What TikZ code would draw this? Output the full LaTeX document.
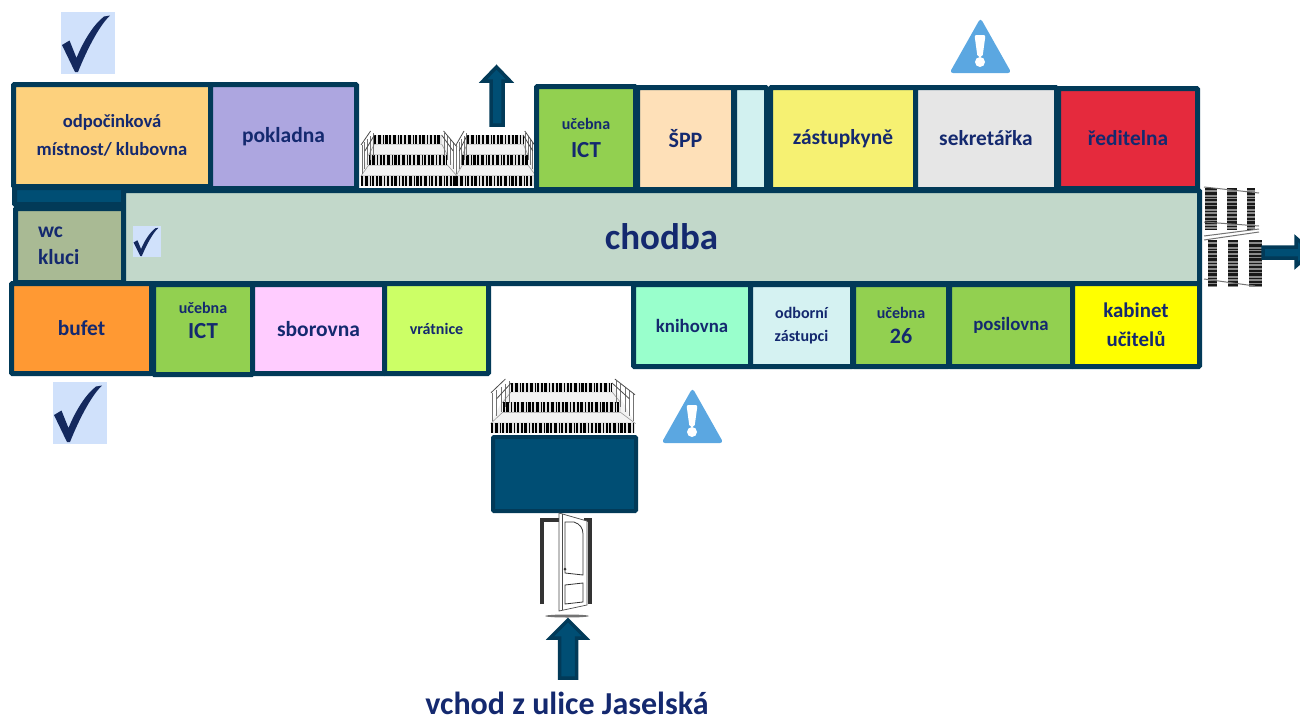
\documentclass[tikz,border=0pt]{standalone}
\usepackage{fontspec}
\setmainfont{Carlito}
\definecolor{border}{HTML}{023A58}
\definecolor{barblue}{HTML}{004E74}
\definecolor{inkblue}{HTML}{14296F}
\definecolor{warnblue}{HTML}{5BA7E1}
\definecolor{tickbg}{HTML}{D0E1FB}
\definecolor{tickink}{HTML}{14295E}
\definecolor{cklub}{HTML}{FDD17D}
\definecolor{cpokl}{HTML}{ADA6E0}
\definecolor{cict}{HTML}{92D050}
\definecolor{cspp}{HTML}{FEE0B8}
\definecolor{cblank}{HTML}{D2F1F0}
\definecolor{czast}{HTML}{F6F172}
\definecolor{csekr}{HTML}{E6E6E6}
\definecolor{cred}{HTML}{E52A3D}
\definecolor{cwc}{HTML}{A9BA94}
\definecolor{cchod}{HTML}{C2D8CA}
\definecolor{cbuf}{HTML}{FF9933}
\definecolor{csbor}{HTML}{FFCCFF}
\definecolor{cvrat}{HTML}{CCFF66}
\definecolor{cknih}{HTML}{99FFCC}
\definecolor{codb}{HTML}{D5F2F2}
\definecolor{ckab}{HTML}{FFFF00}
\newcommand{\fs}[1]{\fontsize{#1}{#1}\selectfont}
% one flight of stairs, 100 wide and 56 high before scaling
\newcommand{\flight}[4]{
  \begin{scope}[shift={(#1,#2)}, xscale=#3/100, yscale=#4/56]
    \fill[black!5] (14,4) -- (84,4) -- (100,45) -- (0,45) -- cycle;
    \draw[black!40, line width=.6pt] (14,13) -- (84,13) -- (90,24) -- (8,24) -- cycle;
    \draw[black!40, line width=.6pt] (8,34) -- (90,34) -- (100,45) -- (0,45) -- cycle;
    \foreach \r/\h/\a/\b in {8.5/9/14/84, 29/10/8/90, 50/10/0/100} {
      \draw[black!12, line width=\h pt] (\a,\r) -- (\b,\r);
      \draw[riser, line width=\h pt] (\a,\r) -- (\b,\r);
    }
    \foreach \s in {1,4,7,10,13} {
      \draw[black!55, line width=.7pt] (\s,{15-\s}) -- (\s,{44-\s*1.5});
      \draw[black!55, line width=.7pt] (100-\s,{15-\s}) -- (100-\s,{44-\s*1.5});
    }
    \draw[black!70, line width=.8pt] (0,14) -- (10,0) (4,20) -- (14,4);
    \draw[black!70, line width=.8pt] (86,0) -- (100,16) (84,4) -- (96,20);
  \end{scope}
}
\tikzset{
  sz/.style 2 args={minimum width=#1pt, minimum height=#2pt},
  riser/.style={black, dash pattern=on 2pt off 1.6pt on 3pt off 2pt on 1pt off 1.4pt on 2.2pt off 1.6pt},
  tick/.pic={
    \fill[tickbg] (0,0) rectangle (54,62);
    \fill[tickink] (1,33) -- (8.5,28.5) -- (15.5,46) .. controls (22,30) and (32,13) .. (43,4.5) -- (49,3.5)
      .. controls (39,13) and (27,35) .. (17,60) -- (14,60) -- cycle;
  },
  warn/.pic={
    \fill[warnblue, rounded corners=3.5pt] (29.5,-3) -- (60.5,52) -- (-1.5,52) -- cycle;
    \fill[white, rounded corners=2pt] (23.5,14) -- (34.5,14) -- (31.5,36) -- (26.5,36) -- cycle;
    \fill[white] (29,41) circle (5);
  }
}
\begin{document}
\begin{tikzpicture}[x=1pt, y=-1pt, align=center, font=\bfseries, text=inkblue]
\tikzstyle{room} = [draw=border, line width=5pt, rounded corners=1pt, inner sep=0pt]
\tikzstyle{blockarrow} = [draw=border, fill=barblue, line width=3.5pt, miter limit=3]
\useasboundingbox (0,0) rectangle (1300,720);

% stairs
\flight{361}{131}{96}{56}
\flight{456}{131}{80}{56}
\flight{491}{379}{144}{55}
\foreach \x/\w in {1211/12, 1232/10, 1251/8} {
  \draw[black!45, line width=\w pt] (\x,188) -- (\x,230);
  \draw[riser, black!90, line width=\w pt] (\x,188) -- (\x,230);
}
\foreach \x/\w in {1212/9, 1233/10, 1255/13} {
  \draw[black!45, line width=\w pt] (\x,240) -- (\x,287);
  \draw[riser, black!90, line width=\w pt] (\x,240) -- (\x,287);
}
\draw[black!55, line width=1pt] (1204,187) -- (1259,193) (1204,222) -- (1259,226) (1204,236) -- (1259,229) (1204,240) -- (1259,232)
  (1204,279) -- (1255,286);

% top row
\node[room, fill=cklub, sz={197}{102}] (odp) at (112,135.5) {\fs{18.6}odpočinková\\[10.5pt]\fs{18.6}místnost/ klubovna};
\node[room, fill=cpokl, sz={146}{104}] (pok) at (283.5,136.5) {\fs{21.5}pokladna};
\node[room, fill=cict, sz={99}{103}] (ictA) at (586,138) {\fs{16}učebna\\[11pt]\fs{23}ICT};
\node[room, fill=cspp, sz={96}{102}] (spp) at (685.5,138.5) {\fs{22}ŠPP};
\node[room, fill=cblank, sz={32}{102}] (blank) at (750.5,138.5) {};
\node[room, fill=czast, sz={145}{102}] (zas) at (843,138.5) {\fs{21.4}zástupkyně};
\node[room, fill=csekr, sz={141}{102}] (sek) at (986,138.5) {\fs{21.4}sekretářka};
\node[room, fill=cred, sz={139}{100}] (red) at (1128,138.5) {\fs{21.4}ředitelna};

% corridor and wc
\node[room, fill=barblue, sz={109}{17}] (bar) at (69,196) {};
\node[room, fill=cwc, sz={108}{74}, text width=63pt, align=left] (wc) at (69.5,245.5) {\fs{21.5}wc\\[11pt]\fs{21.5}kluci};
\node[room, fill=cchod, sz={1076}{93}] (chodba) at (661.5,237) {\fs{37}chodba};

% bottom row
\node[room, fill=cbuf, sz={140}{90}] (bufet) at (81.5,328.5) {\fs{21.4}bufet};
\node[room, fill=cict, sz={99}{90},
  label={[yshift=9pt]center:{\fs{16}učebna\\[8pt]\fs{23}ICT}}] (ictB) at (203,329.5) {};
\node[room, fill=csbor, sz={132}{89}] (sbo) at (318.5,329) {\fs{21.5}sborovna};
\node[room, fill=cvrat, sz={104}{90}] (vra) at (436.5,328.5) {\fs{16}vrátnice};
\node[room, fill=cknih, sz={117}{82}] (kni) at (692,325.5) {\fs{18.8}knihovna};
\node[room, fill=codb, sz={102}{82}] (odb) at (801.5,325.5) {\fs{16}odborní\\[11pt]\fs{16}zástupci};
\node[room, fill=cict, sz={95}{82}] (uc) at (901,325.5) {\fs{16}učebna\\[8.5pt]\fs{22}26};
\node[room, fill=cict, sz={123}{82}] (pos) at (1011,325.5) {\fs{18.8}posilovna};
\node[room, fill=ckab, sz={127}{83}] (kab) at (1136,325) {\fs{20.9}kabinet\\[13pt]\fs{20.9}učitelů};

% entrance hall
\node[room, fill=barblue, sz={143}{74}, line width=4pt] (hala) at (564.5,474) {};

% door
\draw[black!80, line width=4pt] (542,604) -- (542,520) -- (559,520);
\draw[black!80, line width=4pt] (589.5,604) -- (589.5,520) -- (584,520);
\fill[black!55] (567,616) ellipse [x radius=22pt, y radius=1.5pt];
\draw[black!70, fill=white, line width=.7pt] (559,513) -- (587,521) -- (587,605) -- (559,611) -- cycle;
\draw[black!70, line width=.7pt] (562,514) -- (562,610);
\draw[black!80, line width=.8pt] (565,573) -- (565,522) -- (574,522) .. controls (580,524) and (583,528) .. (583,534) -- (583,575) -- cycle;
\draw[black!80, line width=.8pt] (565,585) -- (583,583) -- (583,602) -- (565,604) -- cycle;
\fill[black!80] (565,569) circle (1.5);

% arrows
\draw[blockarrow] (496.5,67) -- (510,81) -- (503,81) -- (503,125) -- (491,125) -- (491,81) -- (483,81) -- cycle;
\draw[blockarrow] (1263,247) -- (1296,247) -- (1296,238) -- (1312,252) -- (1296,266) -- (1296,258) -- (1263,258) -- cycle;
\draw[blockarrow] (568,620) -- (586,638) -- (576.5,638) -- (576.5,678) -- (559.5,678) -- (559.5,638) -- (550,638) -- cycle;

% marks
\pic at (61,12) {tick};
\pic at (53,382) {tick};
\pic[xscale=.52, yscale=.5] at (133,226) {tick};
\pic at (951,21) {warn};
\pic at (663,391) {warn};

\node[inner sep=0pt] (vchod) at (567,703) {\fs{32}vchod z ulice Jaselská};
\end{tikzpicture}
\end{document}
